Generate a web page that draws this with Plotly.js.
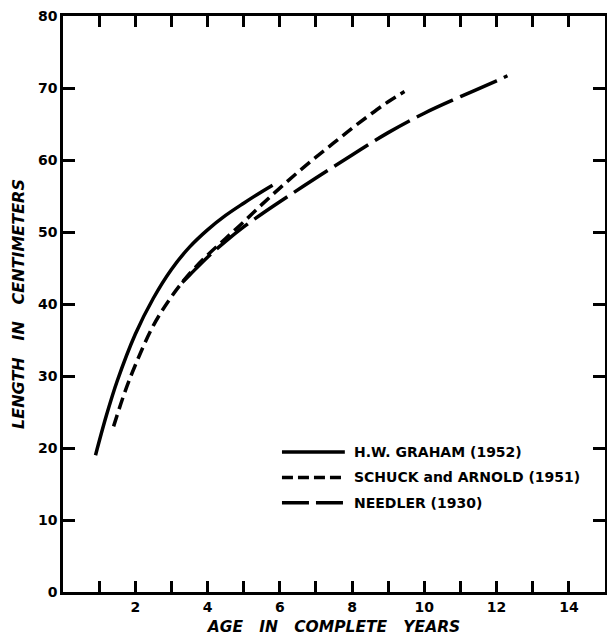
<!DOCTYPE html>
<html>
<head>
<meta charset="utf-8">
<script src="https://cdn.plot.ly/plotly-3.0.1.min.js"></script>
<style>html,body{margin:0;padding:0;background:#fff;}#chart{width:607px;height:637px;}</style>
</head>
<body>
<div id="chart"></div>
<script>
// Age in complete years vs length (cm)
const grahamAge = [0.9, 1.2, 1.5, 2.0, 2.5, 3.0, 3.5, 4.0, 4.5, 5.0, 5.5, 5.8];
const grahamLen = [19, 24.5, 29.3, 35.8, 40.8, 44.8, 47.9, 50.3, 52.3, 54.0, 55.6, 56.5];

const schuckAge = [1.4, 1.7, 2.0, 2.5, 3.0, 3.5, 4.0, 4.5, 5.0, 5.5, 6.0, 6.5, 7.0, 7.5, 8.0, 8.5, 9.0, 9.45];
const schuckLen = [23, 27.6, 31.5, 37, 41, 44.2, 46.8, 49.1, 51.4, 53.8, 56.1, 58.3, 60.4, 62.4, 64.4, 66.3, 68.1, 69.5];

const needlerAge = [3.3, 3.5, 4.0, 4.5, 5.0, 5.5, 6.0, 7.0, 8.0, 9.0, 10.0, 11.0, 12.0, 12.3];
const needlerLen = [43, 44, 46.5, 48.7, 50.7, 52.5, 54.2, 57.5, 60.7, 63.8, 66.5, 68.8, 71, 71.7];

const seriesNames = ['H.W. GRAHAM (1952)', 'SCHUCK and ARNOLD (1951)', 'NEEDLER (1930)'];
const xTickVals = [1, 2, 3, 4, 5, 6, 7, 8, 9, 10, 11, 12, 13, 14];
const xTickText = ['', '2', '', '4', '', '6', '', '8', '', '10', '', '12', '', '14'];
const yTickVals = [0, 10, 20, 30, 40, 50, 60, 70, 80];

const font = 'DejaVu Sans, Liberation Sans, Arial, sans-serif';
const dashes = ['solid', '12px,6px', '40px,8px'];
const legendDashes = ['solid', '11px,5px', '27px,7px'];

const traces = [
  {x: grahamAge, y: grahamLen, name: seriesNames[0], mode: 'lines',
   line: {color: '#000', width: 3.5, shape: 'spline', smoothing: 1, dash: dashes[0]}},
  {x: schuckAge, y: schuckLen, name: seriesNames[1], mode: 'lines',
   line: {color: '#000', width: 3.5, shape: 'spline', smoothing: 1, dash: dashes[1]}},
  {x: needlerAge, y: needlerLen, name: seriesNames[2], mode: 'lines',
   line: {color: '#000', width: 3.5, shape: 'spline', smoothing: 1, dash: dashes[2]}}
];

// hand-built legend (sample lines + labels) in paper coordinates
const legX0 = 0.404, legX1 = 0.52, legTextX = 0.533;
const legRows = [0.243, 0.199, 0.155];
const shapes = legRows.map((yy, i) => ({
  type: 'line', xref: 'paper', yref: 'paper', x0: legX0, x1: legX1, y0: yy, y1: yy,
  line: {color: '#000', width: 3.5, dash: legendDashes[i]}
}));
const annotations = legRows.map((yy, i) => ({
  xref: 'paper', yref: 'paper', x: legTextX, y: yy, xanchor: 'left', yanchor: 'middle',
  text: seriesNames[i], showarrow: false,
  font: {family: font, size: 14, color: '#000', weight: 'bold'}
}));

const layout = {
  width: 607, height: 637,
  margin: {l: 63, r: 2, t: 16, b: 45},
  paper_bgcolor: '#fff', plot_bgcolor: '#fff',
  font: {family: font, color: '#000', size: 13},
  showlegend: false,
  shapes: shapes,
  annotations: annotations,
  xaxis: {
    range: [0, 15], showgrid: false, zeroline: false,
    showline: true, linecolor: '#000', linewidth: 2.5, mirror: 'allticks',
    ticks: 'inside', ticklen: 11, tickwidth: 2.5, tickcolor: '#000',
    tickvals: xTickVals, ticktext: xTickText,
    tickfont: {family: font, size: 14, weight: 'bold'},
    title: {text: 'AGE\u00a0\u00a0 IN\u00a0\u00a0 COMPLETE\u00a0\u00a0 YEARS', standoff: 8,
            font: {family: font, size: 15.5, style: 'italic', weight: 'bold'}}
  },
  yaxis: {
    range: [0, 80], showgrid: false, zeroline: false,
    showline: true, linecolor: '#000', linewidth: 2.5, mirror: 'allticks',
    ticks: 'inside', ticklen: 12, tickwidth: 2.5, tickcolor: '#000',
    tickvals: yTickVals, ticktext: yTickVals.map(String),
    tickfont: {family: font, size: 14, weight: 'bold'},
    title: {text: 'LENGTH\u00a0\u00a0 IN\u00a0\u00a0 CENTIMETERS', standoff: 10,
            font: {family: font, size: 16, style: 'italic', weight: 'bold'}}
  }
};

Plotly.newPlot('chart', traces, layout, {displayModeBar: false});
</script>
</body>
</html>
